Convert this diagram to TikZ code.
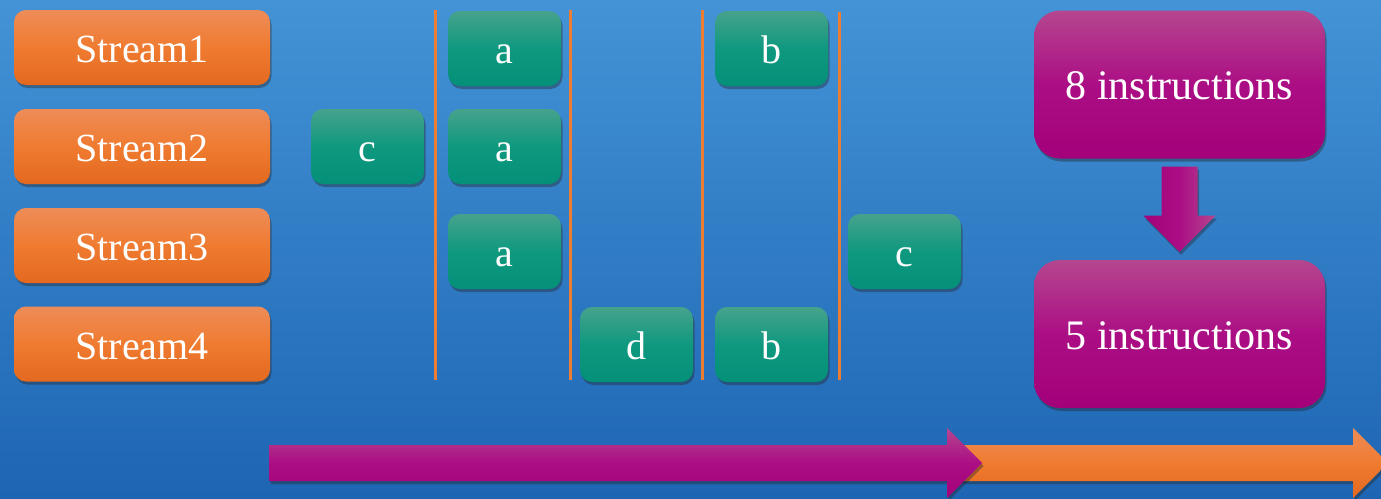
\documentclass[tikz,border=0pt]{standalone}
\usepackage{fontspec}
\setmainfont{Liberation Serif}
\newfontfamily\lserif{Liberation Serif}
\usetikzlibrary{shadows,calc}
\definecolor{bgtop}{HTML}{4393D6}
\definecolor{bgbot}{HTML}{1E65B3}
\definecolor{ortop}{HTML}{EE8C58}
\definecolor{ormid}{HTML}{EF7B30}
\definecolor{orbot}{HTML}{E3691F}
\definecolor{grtop}{HTML}{47A28C}
\definecolor{grmid}{HTML}{0E997F}
\definecolor{grbot}{HTML}{049079}
\definecolor{putop}{HTML}{B5468F}
\definecolor{pumid}{HTML}{AB0E84}
\definecolor{pubot}{HTML}{A3007A}
\definecolor{oline}{HTML}{ED7D31}
\begin{document}
\begin{tikzpicture}[x=1pt,y=-1pt,
  shad/.style={drop shadow={shadow xshift=1.5pt,shadow yshift=-3pt,opacity=0.4,fill=black!85}},
  basebox/.style={rectangle,inner sep=0pt,text=white,shad,text height=34pt,text depth=4pt},
  streambox/.style={basebox,rounded corners=12pt,minimum width=256pt,minimum height=75pt,
    top color=ortop,bottom color=orbot,middle color=ormid,font=\lserif\fontsize{40}{48}\selectfont},
  opbox/.style={basebox,rounded corners=12pt,minimum width=113pt,minimum height=75pt,
    top color=grtop,bottom color=grbot,middle color=grmid,font=\lserif\fontsize{40}{48}\selectfont},
  insbox/.style={basebox,rounded corners=26pt,minimum width=291pt,minimum height=148pt,
    top color=putop,bottom color=pubot,middle color=pumid,font=\lserif\fontsize{42}{50}\selectfont},
  sepline/.style={draw=oline,line width=3pt}]
\shade[top color=bgtop,bottom color=bgbot] (0,0) rectangle (1381,498);
\useasboundingbox (0,0) rectangle (1381,498);

% streams
\node[streambox] (s1) at (142,47.5) {Stream1};
\node[streambox] (s2) at (142,146.5) {Stream2};
\node[streambox] (s3) at (142,245.5) {Stream3};
\node[streambox] (s4) at (142,344) {Stream4};

% separators
\draw[sepline] (435,10) -- (435,380);
\draw[sepline] (570,10) -- (570,380);
\draw[sepline] (702,10) -- (702,380);
\draw[sepline] (839,12) -- (839,380);

% operations
\node[opbox] (c1) at (367.5,146.5) {c};
\node[opbox] (a1) at (504.5,48.5) {a};
\node[opbox] (a2) at (504.5,146.5) {a};
\node[opbox] (a3) at (504.5,251.5) {a};
\node[opbox] (d1) at (636.5,344.5) {d};
\node[opbox] (b1) at (771.5,48.5) {b};
\node[opbox] (b2) at (771.5,344.5) {b};
\node[opbox] (c2) at (904.5,251.5) {c};

% instruction boxes
\node[insbox] (p1) at (1179.5,84.5) {8 instructions};
\node[insbox] (p2) at (1179.5,334) {5 instructions};

% down arrow
\shade[left color=pubot,right color=putop,middle color=pumid,shad]
  ($(p1.south)+(-18,8)$) -- ($(p1.south)+(18,8)$) -- ($(p1.south)+(18,57)$)
  -- ($(p1.south)+(36,57)$) -- ($(p2.north)+(0,-8)$) -- ($(p1.south)+(-36,57)$)
  -- ($(p1.south)+(-18,57)$) -- cycle;

% timeline arrows
\shade[top color=ortop,bottom color=orbot,middle color=ormid,shad]
  (960,445) -- (1353,445) -- (1353,428) -- (1388,463) -- (1353,498) -- (1353,481) -- (960,481) -- cycle;
\shade[top color=putop,bottom color=pubot,middle color=pumid,shad]
  (269,445) -- (947,445) -- (947,428) -- (982,463) -- (947,498) -- (947,481) -- (269,481) -- cycle;
\end{tikzpicture}
\end{document}
